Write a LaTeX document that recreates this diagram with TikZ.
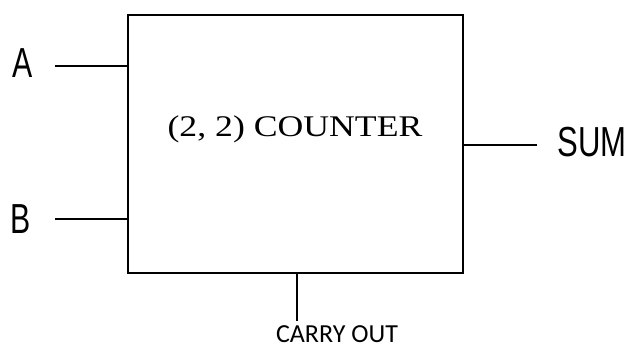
\documentclass[tikz,border=0pt]{standalone}
\usepackage{fontspec}
\usepackage{graphicx}
\setmainfont{Liberation Serif}
\newfontfamily\pinfont{Liberation Sans}
\newfontfamily\carryfont{Carlito}
\begin{document}
\begin{tikzpicture}[x=1pt,y=1pt,
  wire/.style={line width=2.6pt},
  pinlabel/.style={inner sep=0pt,font=\pinfont\fontsize{42}{42}\selectfont},
]
\useasboundingbox (0,0) rectangle (627,349);
\node[draw,line width=2.6pt,minimum width=335pt,minimum height=258pt,inner sep=0pt] (box) at (295.5,205) {};
\node[inner sep=0pt,font=\fontsize{30}{30}\selectfont] (title) at (295,220) {\scalebox{1.19}[1]{(2, 2) COUNTER}};
\node[pinlabel] (A) at (23,286) {\scalebox{0.72}[1]{A}};
\node[pinlabel] (B) at (20.5,130) {\scalebox{0.72}[1]{B}};
\node[pinlabel] (S) at (592,207) {\scalebox{0.74}[1]{SUM}};
\node[inner sep=0pt,anchor=base,font=\carryfont\fontsize{26}{26}\selectfont] (C) at (337,7) {CARRY OUT};
\coordinate (a) at (55,283);
\coordinate (b) at (55,130);
\coordinate (s) at (537,204);
\coordinate (c) at (297,28);
\draw[wire] (a) -- (a -| box.west);
\draw[wire] (b) -- (b -| box.west);
\draw[wire] (s) -- (s -| box.east);
\draw[wire] (c) -- (c |- box.south);
\end{tikzpicture}
\end{document}
